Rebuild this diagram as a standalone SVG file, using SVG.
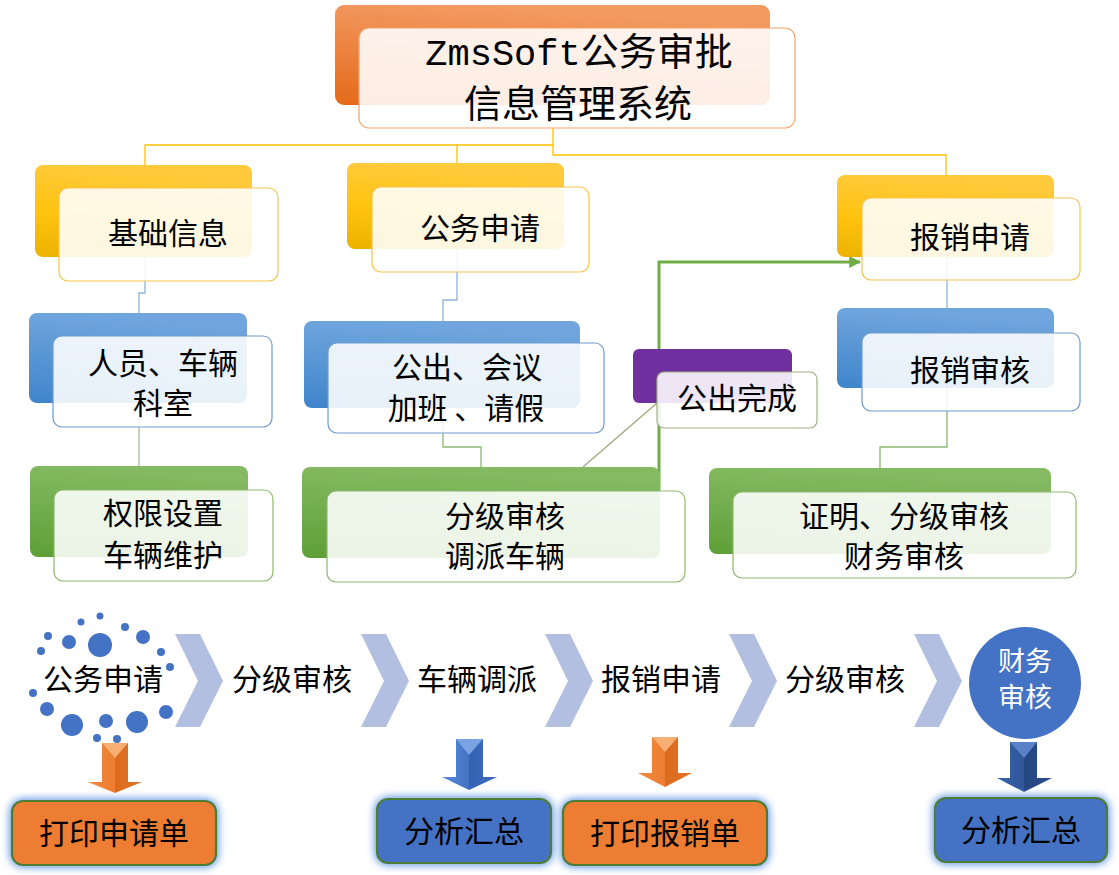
<svg xmlns="http://www.w3.org/2000/svg" width="1119" height="875" viewBox="0 0 1119 875">
<defs>
<linearGradient id="gOr" x1="0" y1="1" x2="0.3" y2="0"><stop offset="0" stop-color="#E46A1A"/><stop offset="1" stop-color="#F39A61"/></linearGradient>
<linearGradient id="gYe" x1="0" y1="1" x2="0.2" y2="0"><stop offset="0" stop-color="#EDB100"/><stop offset="0.5" stop-color="#FFC310"/><stop offset="1" stop-color="#FFCA3C"/></linearGradient>
<linearGradient id="gBl" x1="0" y1="1" x2="0.2" y2="0"><stop offset="0" stop-color="#3F85CB"/><stop offset="1" stop-color="#70A6DD"/></linearGradient>
<linearGradient id="gGr" x1="0" y1="1" x2="0.2" y2="0"><stop offset="0" stop-color="#5E9F36"/><stop offset="1" stop-color="#84BA62"/></linearGradient>
<linearGradient id="aOr" x1="0" y1="0" x2="1" y2="0"><stop offset="0" stop-color="#F08A40"/><stop offset="0.5" stop-color="#ED7D31"/><stop offset="0.5" stop-color="#DC6A1E"/><stop offset="1" stop-color="#E07527"/></linearGradient>
<linearGradient id="aBl" x1="0" y1="0" x2="1" y2="0"><stop offset="0" stop-color="#5A8BD8"/><stop offset="0.5" stop-color="#4472C4"/><stop offset="0.5" stop-color="#3563B4"/><stop offset="1" stop-color="#3D6BBE"/></linearGradient>
<linearGradient id="aDb" x1="0" y1="0" x2="1" y2="0"><stop offset="0" stop-color="#3A64AD"/><stop offset="0.5" stop-color="#2F5597"/><stop offset="0.5" stop-color="#244680"/><stop offset="1" stop-color="#2A4E8C"/></linearGradient>
<filter id="glow" x="-20%" y="-40%" width="140%" height="180%">
<feGaussianBlur in="SourceAlpha" stdDeviation="4" result="b"/>
<feFlood flood-color="#7FAAE8"/>
<feComposite in2="b" operator="in" result="c"/>
<feMerge><feMergeNode in="c"/><feMergeNode in="c"/><feMergeNode in="SourceGraphic"/></feMerge>
</filter>
<marker id="ah" viewBox="0 0 10 10" refX="9" refY="5" markerWidth="4" markerHeight="4" orient="auto" markerUnits="strokeWidth"><path d="M0,0 L10,5 L0,10 z" fill="#70AD47"/></marker>
<style>
text{font-family:"Noto Sans CJK SC","Noto Sans",sans-serif;font-size:30px;fill:#000;text-anchor:middle}
.front{fill:#fff;fill-opacity:0.88;stroke-width:1.2}
.fy{stroke:#F5C34A}
.fb{stroke:#6E9CCF}
.fg{stroke:#8DB86F}
.fo{stroke:#F2A36A}
.fp{stroke:#9DB084}
.c{fill:none;stroke-width:1.3}
.chev{fill:#B3BFE0}
.dot{fill:#4472C4}
.box{stroke:#4E7D30;stroke-width:2.2}
</style>
</defs>

<g id="connectors">
<path class="c" stroke="#FFC000" d="M145,165 V145 H553 M457,163 V145 M553,128 V155 H946 V175"/>
<path class="c" stroke="#8EB4DC" d="M145,257 V293 H139 V313"/>
<path class="c" stroke="#A7BE92" d="M139,403 V466"/>
<path class="c" stroke="#8EB4DC" d="M457,249 V300 H443 V321"/>
<path class="c" stroke="#8DB86F" d="M443,408 V447 H481 V467"/>
<path class="c" stroke="#8EB4DC" d="M947,257 V308"/>
<path class="c" stroke="#8DB86F" d="M947,388 V447 H880 V468"/>
<path fill="none" stroke="#9AA97A" stroke-width="1.2" d="M583,467 L657,403"/>
<path fill="none" stroke="#70AD47" stroke-width="3" d="M659,490 V262 H860" marker-end="url(#ah)"/>
</g>

<g id="title">
<rect x="335" y="5" width="435" height="100" rx="9" fill="url(#gOr)"/>
<rect class="front fo" x="359" y="28" width="436" height="100" rx="10"/>
<text style="font-size:38px"><tspan x="579" y="65"><tspan style="font-family:'Liberation Mono',monospace;font-size:37px">ZmsSoft</tspan>公务审批</tspan><tspan x="578" y="117">信息管理系统</tspan></text>
</g>

<g id="n-jichu">
<rect x="35" y="165" width="217" height="92" rx="8" fill="url(#gYe)"/>
<rect class="front fy" x="59" y="188" width="219" height="93" rx="9"/>
<text x="168" y="244">基础信息</text>
</g>
<g id="n-renyuan">
<rect x="29" y="313" width="218" height="90" rx="8" fill="url(#gBl)"/>
<rect class="front fb" x="53" y="336" width="219" height="91" rx="9"/>
<text><tspan x="163" y="374">人员、车辆</tspan><tspan x="163" y="414">科室</tspan></text>
</g>
<g id="n-quanxian">
<rect x="30" y="466" width="218" height="91" rx="8" fill="url(#gGr)"/>
<rect class="front fg" x="54" y="490" width="219" height="91" rx="9"/>
<text><tspan x="163" y="524">权限设置</tspan><tspan x="163" y="566">车辆维护</tspan></text>
</g>

<g id="n-gongwu">
<rect x="347" y="163" width="217" height="86" rx="8" fill="url(#gYe)"/>
<rect class="front fy" x="372" y="187" width="217" height="85" rx="9"/>
<text x="480" y="239">公务申请</text>
</g>
<g id="n-gongchu">
<rect x="304" y="321" width="276" height="87" rx="8" fill="url(#gBl)"/>
<rect class="front fb" x="328" y="343" width="276" height="90" rx="9"/>
<text xml:space="preserve"><tspan x="467" y="378">公出、会议</tspan><tspan x="466" y="419">加班 、请假</tspan></text>
</g>
<g id="n-fenji">
<rect x="302" y="467" width="358" height="91" rx="8" fill="url(#gGr)"/>
<rect class="front fg" x="327" y="491" width="358" height="91" rx="9"/>
<text><tspan x="505" y="527">分级审核</tspan><tspan x="505" y="567">调派车辆</tspan></text>
</g>
<g id="n-wancheng">
<rect x="633" y="349" width="159" height="54" rx="6" fill="#7030A0"/>
<rect class="front fp" x="657" y="372" width="160" height="56" rx="7"/>
<text x="737" y="409">公出完成</text>
</g>

<g id="n-baoxiao">
<rect x="837" y="175" width="217" height="82" rx="8" fill="url(#gYe)"/>
<rect class="front fy" x="862" y="198" width="218" height="82" rx="9"/>
<text x="970" y="248">报销申请</text>
</g>
<g id="n-shenhe">
<rect x="837" y="308" width="217" height="80" rx="8" fill="url(#gBl)"/>
<rect class="front fb" x="862" y="333" width="218" height="78" rx="9"/>
<text x="970" y="381">报销审核</text>
</g>
<g id="n-zhengming">
<rect x="709" y="468" width="342" height="86" rx="8" fill="url(#gGr)"/>
<rect class="front fg" x="733" y="492" width="343" height="86" rx="9"/>
<text><tspan x="904" y="527">证明、分级审核</tspan><tspan x="904" y="567">财务审核</tspan></text>
</g>

<g id="flow">
<g id="dots">
<circle class="dot" cx="100" cy="616" r="3.5"/>
<circle class="dot" cx="81" cy="622" r="3.5"/>
<circle class="dot" cx="125" cy="627" r="4"/>
<circle class="dot" cx="48" cy="636" r="4"/>
<circle class="dot" cx="69" cy="642" r="7"/>
<circle class="dot" cx="100" cy="645" r="12"/>
<circle class="dot" cx="143" cy="637" r="7"/>
<circle class="dot" cx="41" cy="651" r="4"/>
<circle class="dot" cx="161" cy="652" r="4"/>
<circle class="dot" cx="170" cy="667" r="4"/>
<circle class="dot" cx="33" cy="693" r="4"/>
<circle class="dot" cx="47" cy="709" r="7"/>
<circle class="dot" cx="166" cy="712" r="7"/>
<circle class="dot" cx="72" cy="725" r="11"/>
<circle class="dot" cx="106" cy="721" r="7"/>
<circle class="dot" cx="137" cy="722" r="11"/>
<circle class="dot" cx="97" cy="738" r="4"/>
<circle class="dot" cx="117" cy="739" r="4"/>
</g>
<text x="103" y="690">公务申请</text>
<polygon class="chev" points="175,634 200,634 223,681 200,727 175,727 198,681"/>
<text x="292" y="690">分级审核</text>
<polygon class="chev" points="361,634 386,634 409,681 386,727 361,727 384,681"/>
<text x="477" y="690">车辆调派</text>
<polygon class="chev" points="545,634 570,634 593,681 570,727 545,727 568,681"/>
<text x="661" y="690">报销申请</text>
<polygon class="chev" points="729,634 754,634 777,681 754,727 729,727 752,681"/>
<text x="845" y="690">分级审核</text>
<polygon class="chev" points="914,634 939,634 962,681 939,727 914,727 937,681"/>
<g id="n-caiwu">
<circle cx="1025" cy="683" r="56" fill="#4472C4"/>
<text style="fill:#fff;font-size:27px"><tspan x="1025" y="671">财务</tspan><tspan x="1025" y="707">审核</tspan></text>
</g>
</g>

<g id="arrow1">
<polygon points="102,743 128,743 128,782 142,782 115,793 88,782 102,782" fill="url(#aOr)"/>
<polygon points="102,743 128,743 115,758" fill="#F7AE72"/>
</g>
<g id="arrow2">
<polygon points="456,739 483,739 483,777 497,777 469,790 442,777 456,777" fill="url(#aBl)"/>
<polygon points="456,739 483,739 469,755" fill="#7AA3E4"/>
</g>
<g id="arrow3">
<polygon points="652,737 678,737 678,773 692,773 665,787 638,773 652,773" fill="url(#aOr)"/>
<polygon points="652,737 678,737 665,752" fill="#F7AE72"/>
</g>
<g id="arrow4">
<polygon points="1010,742 1037,742 1037,778 1052,778 1024,792 997,778 1010,778" fill="url(#aDb)"/>
<polygon points="1010,742 1037,742 1024,758" fill="#5A82C8"/>
</g>

<g id="n-print1">
<rect class="box" x="12" y="801" width="204" height="64" rx="11" fill="#ED7D31" filter="url(#glow)"/>
<text x="114" y="844">打印申请单</text>
</g>
<g id="n-analysis1">
<rect class="box" x="377" y="799" width="174" height="64" rx="11" fill="#4472C4" filter="url(#glow)"/>
<text x="464" y="842">分析汇总</text>
</g>
<g id="n-print2">
<rect class="box" x="563" y="801" width="204" height="64" rx="11" fill="#ED7D31" filter="url(#glow)"/>
<text x="665" y="844">打印报销单</text>
</g>
<g id="n-analysis2">
<rect class="box" x="935" y="798" width="172" height="64" rx="11" fill="#4472C4" filter="url(#glow)"/>
<text x="1021" y="841">分析汇总</text>
</g>
</svg>
